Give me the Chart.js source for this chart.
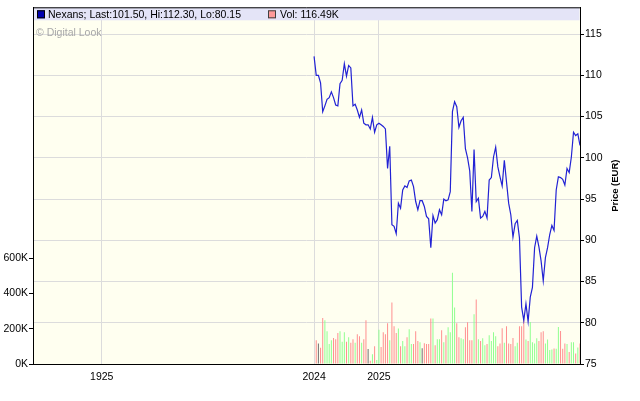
<!DOCTYPE html>
<html><head><meta charset="utf-8">
<script src="https://cdn.jsdelivr.net/npm/chart.js@4"></script>
<style>html,body{margin:0;padding:0;background:#fff}canvas{display:block}</style>
</head><body>
<canvas id="c" width="640" height="401"></canvas>
<script>
// ---- data ----
const prices = [
112.3,110.0,110.0,109.1,105.6,106.3,107.1,107.3,108.0,107.3,
106.4,106.3,109.0,109.4,111.4,109.9,111.2,110.9,106.3,106.5,
105.8,104.9,105.8,104.2,104.0,104.0,103.5,104.9,103.1,104.0,
104.2,104.0,103.8,103.5,98.7,101.4,91.9,91.7,90.8,94.5,
93.9,96.1,96.6,96.4,97.2,97.3,96.5,94.7,93.7,94.8,
94.8,94.1,92.9,92.6,89.1,93.0,92.1,92.5,93.7,93.1,
95.0,94.8,94.9,95.9,105.6,106.8,106.2,103.7,104.5,104.9,
101.1,100.0,98.4,93.5,101.0,94.7,95.1,92.7,92.9,93.5,
92.7,97.3,97.6,100.1,101.3,98.9,97.7,96.6,99.7,97.1,
94.5,93.1,90.4,92.0,92.4,90.3,81.9,80.3,82.3,80.15,
83.1,84.3,89.1,90.5,89.2,87.5,85.1,87.9,89.1,90.7,
91.8,91.2,96.1,97.7,97.6,97.4,96.7,98.7,98.2,100.1,
103.1,102.7,102.9,101.5];
const volumesK = [null,
135,117,92,261,248,186,113,135,148,141,176,186,126,180,126,152,120,141,120,169,
158,120,141,248,85,19,56,101,23,195,97,180,169,231,135,349,214,176,201,101,
130,101,152,197,113,113,186,130,124,90,118,113,113,259,259,107,141,141,192,124,
163,208,180,518,321,231,152,146,141,208,237,135,135,282,366,141,130,146,107,113,163,
131,180,158,101,116,203,120,214,116,113,148,101,120,214,214,248,139,131,239,124,
116,146,131,180,186,116,139,79,83,88,86,210,188,86,116,113,68,124,124,60,94,116];
const xTickValues = [-98.2, 0, 30];
const xTickLabels = ['1925', '2024', '2025'];
const priceTicks = [75, 80, 85, 90, 95, 100, 105, 110, 115];
const volumeTicks = [0, 200, 400, 600];
const legendPrice = 'Nexans; Last:101.50, Hi:112.30, Lo:80.15';
const legendVol = 'Vol: 116.49K';
const watermarkText = '\u00A9 Digital Look';
const priceTitle = 'Price (EUR)';

// ---- build ----
const FONT = 'Liberation Sans, Arial, sans-serif';
const linePts = prices.map((p, i) => ({x: i, y: p}));
const barPts = [], barCols = [];
volumesK.forEach((v, i) => {
  if (v == null) return;
  barPts.push({x: i, y: v});
  const d = prices[i] - prices[i - 1];
  barCols.push(d > 0 ? '#90ff90' : d < 0 ? '#ff8f8f' : '#707070');
});

const deco = {
  id: 'deco',
  beforeDraw(chart) {
    const {ctx, chartArea: a} = chart;
    ctx.save();
    ctx.fillStyle = '#ffffff';
    ctx.fillRect(0, 0, chart.width, chart.height);
    ctx.fillStyle = '#fffff0';
    ctx.fillRect(a.left, a.top, a.right - a.left, a.bottom - a.top);
    ctx.restore();
  },
  beforeDatasetsDraw(chart) {
    const {ctx, chartArea: a} = chart;
    ctx.save();
    ctx.fillStyle = '#a8a8a8';
    ctx.font = '10.5px ' + FONT;
    ctx.textBaseline = 'middle';
    ctx.textAlign = 'left';
    ctx.fillText(watermarkText, a.left + 3, a.top + 26);
    ctx.fillStyle = '#e4e4f7';
    ctx.fillRect(a.left + 1, a.top, a.right - a.left - 1.5, 13);
    ctx.strokeStyle = '#000';
    ctx.lineWidth = 1;
    ctx.beginPath();
    ctx.moveTo(a.left, a.top + 0.5);
    ctx.lineTo(a.right, a.top + 0.5);
    ctx.stroke();
    const cy = a.top + 7;
    ctx.fillStyle = '#0000b0';
    ctx.fillRect(a.left + 4, cy - 4, 8, 8);
    ctx.strokeRect(a.left + 4.5, cy - 3.5, 7, 7);
    ctx.fillStyle = '#000';
    ctx.font = '10.5px ' + FONT;
    ctx.fillText(legendPrice, a.left + 15, cy + 0.5);
    ctx.fillStyle = '#ff9a9a';
    ctx.fillRect(a.left + 235, cy - 4, 8, 8);
    ctx.strokeStyle = '#404040';
    ctx.strokeRect(a.left + 235.5, cy - 3.5, 7, 7);
    ctx.fillStyle = '#000';
    ctx.fillText(legendVol, a.left + 247, cy + 0.5);
    ctx.restore();
  },
  afterDraw(chart) {
    const {ctx, chartArea: a} = chart;
    ctx.save();
    ctx.translate(615, (a.top + a.bottom) / 2);
    ctx.rotate(-Math.PI / 2);
    ctx.fillStyle = '#000';
    ctx.font = 'bold 9.5px ' + FONT;
    ctx.textAlign = 'center';
    ctx.textBaseline = 'middle';
    ctx.fillText(priceTitle, 0, 0);
    ctx.restore();
  }
};

new Chart(document.getElementById('c'), {
  type: 'bar',
  data: {
    datasets: [
      {type: 'line', data: linePts, xAxisID: 'x', yAxisID: 'y', borderColor: '#2222d4',
       borderWidth: 1.2, pointRadius: 0, tension: 0, fill: false, order: 0},
      {type: 'bar', data: barPts, xAxisID: 'x', yAxisID: 'y1', backgroundColor: barCols,
       barThickness: 1, borderWidth: 0, inflateAmount: 0, grouped: false, order: 1}
    ]
  },
  options: {
    responsive: false, animation: false, devicePixelRatio: 1,
    layout: {padding: {top: 5, left: 0, right: 0, bottom: 0}},
    plugins: {legend: {display: false}, tooltip: {enabled: false}},
    scales: {
      x: {
        type: 'linear', position: 'bottom', min: -130, max: 123, offset: false,
        grid: {color: '#dcdcdc', offset: false, drawTicks: false},
        border: {color: '#000', width: 1},
        afterBuildTicks: s => { s.ticks = xTickValues.map(v => ({value: v})); },
        afterFit: s => { s.height = 37; },
        ticks: {padding: 7, autoSkip: false, maxRotation: 0, color: '#000',
                font: {family: FONT, size: 10.5},
                callback: (v, i) => xTickLabels[i]}
      },
      y: {
        type: 'linear', position: 'right', min: 75, max: 118.25,
        grid: {color: '#dcdcdc', tickColor: '#000', tickLength: 4},
        border: {color: '#000', width: 1},
        afterBuildTicks: s => { s.ticks = priceTicks.map(v => ({value: v})); },
        afterFit: s => { s.width = 60; },
        ticks: {padding: 1, color: '#000', font: {family: FONT, size: 10.5},
                callback: v => String(v)}
      },
      y1: {
        type: 'linear', position: 'left', min: 0, max: 2025,
        grid: {drawOnChartArea: false, tickColor: '#000', tickLength: 4},
        border: {color: '#000', width: 1},
        afterBuildTicks: s => { s.ticks = volumeTicks.map(v => ({value: v})); },
        afterFit: s => { s.width = 33; },
        ticks: {padding: 1, color: '#000', font: {family: FONT, size: 10.5},
                callback: v => v + 'K'}
      }
    }
  },
  plugins: [deco]
});
</script>
</body></html>
